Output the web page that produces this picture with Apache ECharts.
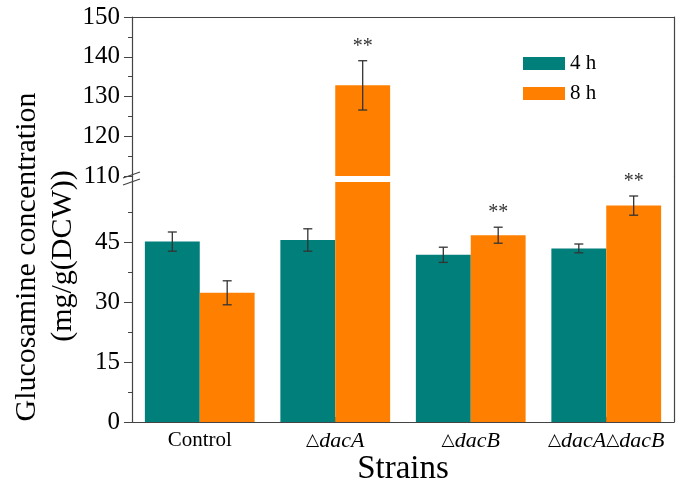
<!DOCTYPE html>
<html>
<head>
<meta charset="utf-8">
<script src="https://cdn.jsdelivr.net/npm/echarts@6/dist/echarts.min.js"></script>
<style>
  html, body { margin: 0; padding: 0; background: #fff; }
  #main { width: 680px; height: 492px; }
</style>
</head>
<body>
<div id="main"></div>
<script>
// data
var strains = ['Control', '△dacA', '△dacB', '△dacA△dacB'];
var seriesNames = ['4 h', '8 h'];
var mean4h = [45.1, 45.5, 41.8, 43.4];
var err4h = [2.4, 2.8, 1.9, 1.1];
var mean8h = [32.3, 132.8, 46.7, 54.1];
var err8h = [3.0, 6.2, 2.0, 2.4];
var stars8h = ['', '**', '**', '**'];
var lowerTicks = [0, 15, 30, 45];

// broken axis: lower part 0-60, upper part 110-150
var LOW_MAX = 60, HIGH_MIN = 110, HIGH_MAX = 150;
var LEFT = 132, RIGHT = 6, TOP = 17, GAP_TOP = 176, GAP_BOT = 182, BOTTOM = 422;
var CAT_GAP = 0.19;
var colors = ['#007f7b', '#ff8000'];
var serif = '"Liberation Serif", "Times New Roman", serif';
var axisColor = '#444';

function rows(means, errs, stars, keep) {
  var out = [];
  means.forEach(function (m, i) {
    if (keep(m)) out.push([i, m, errs[i], stars ? stars[i] : '']);
  });
  return out;
}

function errRender(side) {
  return function (params, api) {
    var i = api.value(0), m = api.value(1), e = api.value(2);
    var band = api.size([1, 0])[0];
    var barW = band * (1 - CAT_GAP) / 2;
    var x = api.coord([i, m])[0] + side * barW / 2;
    var yt = api.coord([i, m + e])[1];
    var yb = api.coord([i, m - e])[1];
    var cap = 4.5;
    var st = { stroke: '#333', lineWidth: 1.3 };
    var kids = [
      { type: 'line', shape: { x1: x, y1: yt, x2: x, y2: yb }, style: st },
      { type: 'line', shape: { x1: x - cap, y1: yt, x2: x + cap, y2: yt }, style: st },
      { type: 'line', shape: { x1: x - cap, y1: yb, x2: x + cap, y2: yb }, style: st }
    ];
    var s = api.value(3);
    if (s) {
      kids.push({ type: 'text', style: { text: s, x: x, y: yt - 14, align: 'center', verticalAlign: 'middle',
        font: '20px ' + serif, fill: '#333' } });
    }
    return { type: 'group', children: kids };
  };
}

function isLow(v) { return v < LOW_MAX; }
function isHigh(v) { return v > HIGH_MIN; }

var labelRich = {
  n: { fontFamily: serif, fontSize: 21, color: '#000' },
  t: { fontFamily: '"DejaVu Sans"', fontSize: 17, color: '#000' },
  i: { fontFamily: serif, fontSize: 22, fontStyle: 'italic', color: '#000' }
};

var frameLine = { show: true, lineStyle: { color: axisColor, width: 1.2 } };
var gapLine = { stroke: axisColor, lineWidth: 1.2 };

var option = {
  animation: false,
  backgroundColor: '#fff',
  color: colors,
  grid: [
    { left: LEFT, right: RIGHT, top: GAP_BOT, height: BOTTOM - GAP_BOT },
    { left: LEFT, right: RIGHT, top: TOP, height: GAP_TOP - TOP }
  ],
  legend: {
    data: seriesNames,
    orient: 'vertical',
    left: 518, top: 48,
    itemWidth: 42, itemHeight: 13, itemGap: 9,
    icon: 'rect',
    textStyle: { fontFamily: serif, fontSize: 21, color: '#000' }
  },
  xAxis: [
    {
      type: 'category', gridIndex: 0, data: strains,
      axisLine: frameLine,
      axisTick: { show: true, inside: true, alignWithLabel: true, length: 5, lineStyle: { color: axisColor } },
      axisLabel: {
        interval: 0, hideOverlap: false,
        margin: 8,
        formatter: function (v) {
          return v.indexOf('△') < 0 ? '{n|' + v + '}' : v.replace(/△(\w+)/g, '{t|△}{i|$1}');
        },
        rich: labelRich
      },
      name: 'Strains', nameLocation: 'middle', nameGap: 30,
      nameTextStyle: { fontFamily: serif, fontSize: 33, color: '#000' }
    },
    {
      type: 'category', gridIndex: 1, data: strains, position: 'top',
      axisLine: frameLine, axisTick: { show: false }, axisLabel: { show: false }
    }
  ],
  yAxis: [
    {
      type: 'value', gridIndex: 0, min: 0, max: LOW_MAX, interval: 15,
      axisLine: frameLine,
      axisTick: { show: true, length: 8, customValues: lowerTicks, lineStyle: { color: axisColor } },
      minorTick: { show: true, splitNumber: 2, length: 4, lineStyle: { color: axisColor } },
      axisLabel: { customValues: lowerTicks, margin: 12, fontFamily: serif, fontSize: 25, color: '#000' },
      splitLine: { show: false }
    },
    {
      type: 'value', gridIndex: 0, min: 0, max: LOW_MAX, position: 'right',
      axisLine: frameLine, axisTick: { show: false }, axisLabel: { show: false }, splitLine: { show: false }
    },
    {
      type: 'value', gridIndex: 1, min: HIGH_MIN, max: HIGH_MAX, interval: 10,
      axisLine: frameLine,
      axisTick: { show: true, length: 8, lineStyle: { color: axisColor } },
      minorTick: { show: true, splitNumber: 2, length: 4, lineStyle: { color: axisColor } },
      axisLabel: { margin: 12, fontFamily: serif, fontSize: 25, color: '#000' },
      splitLine: { show: false }
    },
    {
      type: 'value', gridIndex: 1, min: HIGH_MIN, max: HIGH_MAX, position: 'right',
      axisLine: frameLine, axisTick: { show: false }, axisLabel: { show: false }, splitLine: { show: false }
    }
  ],
  series: [
    { name: '4 h', type: 'bar', xAxisIndex: 0, yAxisIndex: 0, data: mean4h,
      barGap: 0, barCategoryGap: (CAT_GAP * 100) + '%', clip: true },
    { name: '8 h', type: 'bar', xAxisIndex: 0, yAxisIndex: 0, data: mean8h,
      barGap: 0, barCategoryGap: (CAT_GAP * 100) + '%', clip: true },
    { name: '4 h', type: 'bar', xAxisIndex: 1, yAxisIndex: 2,
      data: mean4h.map(function (v) { return isHigh(v) ? v : '-'; }),
      barGap: 0, barCategoryGap: (CAT_GAP * 100) + '%', clip: true },
    { name: '8 h', type: 'bar', xAxisIndex: 1, yAxisIndex: 2,
      data: mean8h.map(function (v) { return isHigh(v) ? v : '-'; }),
      barGap: 0, barCategoryGap: (CAT_GAP * 100) + '%', clip: true },
    { type: 'custom', xAxisIndex: 0, yAxisIndex: 0, renderItem: errRender(-1), clip: false,
      encode: { x: 0, y: 1 }, data: rows(mean4h, err4h, null, isLow), z: 5 },
    { type: 'custom', xAxisIndex: 0, yAxisIndex: 0, renderItem: errRender(1), clip: false,
      encode: { x: 0, y: 1 }, data: rows(mean8h, err8h, stars8h, isLow), z: 5 },
    { type: 'custom', xAxisIndex: 1, yAxisIndex: 2, renderItem: errRender(-1), clip: false,
      encode: { x: 0, y: 1 }, data: rows(mean4h, err4h, null, isHigh), z: 5 },
    { type: 'custom', xAxisIndex: 1, yAxisIndex: 2, renderItem: errRender(1), clip: false,
      encode: { x: 0, y: 1 }, data: rows(mean8h, err8h, stars8h, isHigh), z: 5 }
  ],
  graphic: [
    // axis name, two lines
    { type: 'text', x: 27, y: 257, rotation: Math.PI / 2,
      style: { text: 'Glucosamine concentration', font: '30px ' + serif, fill: '#000', align: 'center', verticalAlign: 'middle' } },
    { type: 'text', x: 63, y: 256, rotation: Math.PI / 2,
      style: { text: '(mg/g(DCW))', font: '30px ' + serif, fill: '#000', align: 'center', verticalAlign: 'middle' } },
    // axis lines across the break (half-pixel to line up with the crisp axis lines)
    { type: 'line', shape: { x1: LEFT + 0.5, y1: GAP_TOP, x2: LEFT + 0.5, y2: GAP_BOT }, style: gapLine },
    { type: 'line', shape: { x1: 680 - RIGHT + 0.5, y1: GAP_TOP, x2: 680 - RIGHT + 0.5, y2: GAP_BOT }, style: gapLine },
    // break mark
    { type: 'line', shape: { x1: LEFT - 9, y1: GAP_TOP + 2, x2: LEFT + 8, y2: GAP_TOP - 4 }, style: gapLine },
    { type: 'line', shape: { x1: LEFT - 9, y1: GAP_BOT + 3, x2: LEFT + 8, y2: GAP_BOT - 3 }, style: gapLine }
  ]
};

var myChart = echarts.init(document.getElementById('main'));
myChart.setOption(option);
</script>
</body>
</html>
